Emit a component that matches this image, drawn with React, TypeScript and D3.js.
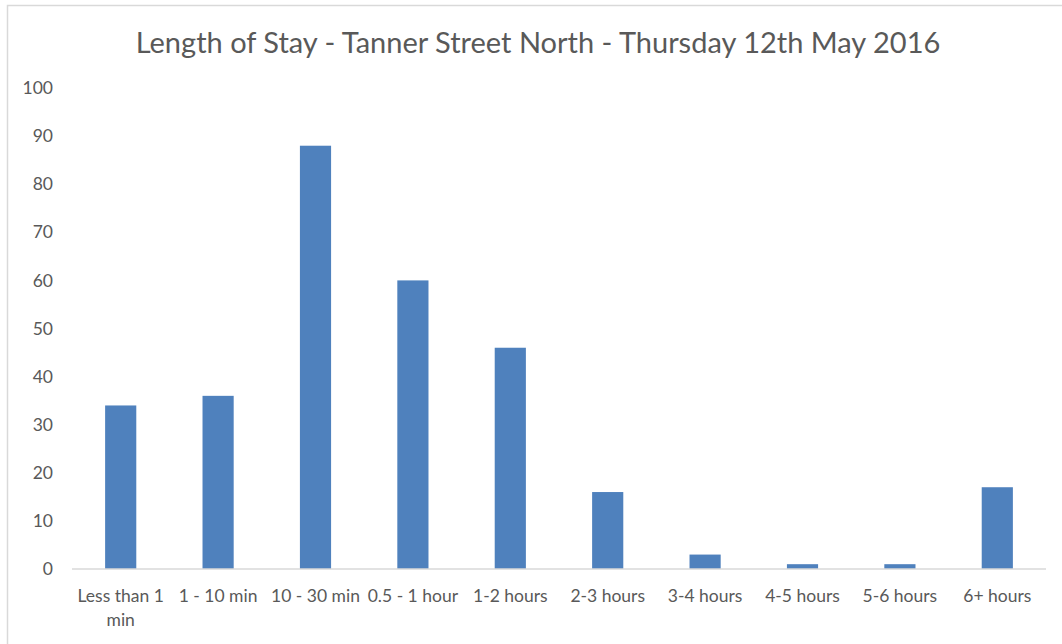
import React, { useEffect, useRef } from "react";
import * as d3 from "d3";

const categories = [
  "Less than 1 min",
  "1 - 10 min",
  "10 - 30 min",
  "0.5 - 1 hour",
  "1-2 hours",
  "2-3 hours",
  "3-4 hours",
  "4-5 hours",
  "5-6 hours",
  "6+ hours",
];
const counts = [34, 36, 88, 60, 46, 16, 3, 1, 1, 17];
const yTicks = [0, 10, 20, 30, 40, 50, 60, 70, 80, 90, 100];

const title = "Length of Stay - Tanner Street North - Thursday 12th May 2016";

export default function App() {
  const svgRef = useRef<SVGSVGElement | null>(null);

  useEffect(() => {
    if (!svgRef.current) return;
    const width = 1062;
    const height = 644;
    const margin = { top: 88, right: 16, bottom: 75, left: 72 };
    const font = "Lato, 'Open Sans', sans-serif";
    const textColor = "#595959";

    const svg = d3.select(svgRef.current);
    svg.selectAll("*").remove();
    svg.attr("width", width).attr("height", height);

    // chart area border
    svg
      .append("rect")
      .attr("x", 7.5)
      .attr("y", 5.5)
      .attr("width", width + 10)
      .attr("height", height + 10)
      .attr("fill", "white")
      .attr("stroke", "#d9d9d9")
      .attr("stroke-width", 1.5);

    svg
      .append("text")
      .attr("x", 538)
      .attr("y", 53)
      .attr("text-anchor", "middle")
      .attr("font-family", font)
      .attr("font-size", 29)
      .attr("fill", textColor)
      .text(title);

    const x = d3
      .scaleBand<string>()
      .domain(categories)
      .range([margin.left, width - margin.right])
      .paddingInner(0.68)
      .paddingOuter(0.34);

    const y = d3
      .scaleLinear()
      .domain([0, 100])
      .range([height - margin.bottom, margin.top]);

    svg
      .append("g")
      .selectAll("rect")
      .data(counts)
      .join("rect")
      .attr("x", (_, i) => x(categories[i])!)
      .attr("y", (d) => y(d))
      .attr("width", x.bandwidth())
      .attr("height", (d) => y(0) - y(d))
      .attr("fill", "#4f81bd");

    // x axis baseline
    svg
      .append("line")
      .attr("x1", margin.left)
      .attr("x2", width - margin.right)
      .attr("y1", y(0))
      .attr("y2", y(0))
      .attr("stroke", "#d9d9d9")
      .attr("stroke-width", 1.5);

    // y tick labels
    svg
      .append("g")
      .selectAll("text")
      .data(yTicks)
      .join("text")
      .attr("x", 53)
      .attr("y", (d) => y(d))
      .attr("dy", "0.35em")
      .attr("text-anchor", "end")
      .attr("font-family", font)
      .attr("font-size", 17.5)
      .attr("fill", textColor)
      .text((d) => String(d));

    // x labels, wrapped to band step
    const step = x.step();
    const labels = svg
      .append("g")
      .selectAll("text")
      .data(categories)
      .join("text")
      .attr("x", (d) => x(d)! + x.bandwidth() / 2)
      .attr("y", y(0) + 33)
      .attr("text-anchor", "middle")
      .attr("font-family", font)
      .attr("font-size", 17.5)
      .attr("fill", textColor);

    labels.each(function (d) {
      const t = d3.select(this);
      const words = d.split(" ");
      const lines: string[] = [];
      let cur = "";
      const measure = (s: string) => {
        const tmp = t.append("tspan").text(s);
        const w = (tmp.node() as SVGTextContentElement).getComputedTextLength();
        tmp.remove();
        return w;
      };
      words.forEach((w) => {
        const next = cur ? cur + " " + w : w;
        if (cur && measure(next) > step + 4) {
          lines.push(cur);
          cur = w;
        } else cur = next;
      });
      lines.push(cur);
      lines.forEach((ln, i) => {
        t.append("tspan")
          .attr("x", x(d)! + x.bandwidth() / 2)
          .attr("dy", i === 0 ? 0 : 24)
          .text(ln);
      });
    });
  }, []);

  return (
    <svg
      ref={svgRef}
      style={{ display: "block", position: "absolute", left: 0, top: 0 }}
    />
  );
}
